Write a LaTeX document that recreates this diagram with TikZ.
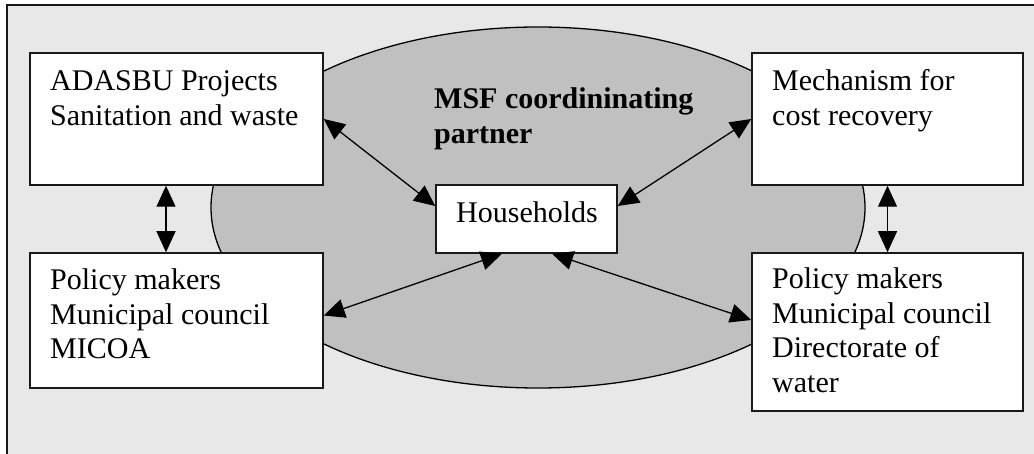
\documentclass[tikz,border=0pt]{standalone}
\usepackage{fontspec}
\setmainfont{Liberation Serif}
\usetikzlibrary{arrows.meta}
\definecolor{bgpanel}{RGB}{232,232,232}
\definecolor{msffill}{RGB}{192,192,192}
\definecolor{edge}{RGB}{25,25,25}
\begin{document}
\begin{tikzpicture}[x=1pt,y=-1pt,
  box/.style={draw=edge, line width=1.5pt, fill=white, inner sep=0pt},
  lbl/.style={anchor=base west, inner sep=0pt, font=\fontsize{30}{34.5}\selectfont},
  title/.style={anchor=base west, inner sep=0pt, font=\fontsize{30}{35}\selectfont\bfseries},
  link/.style={line width=1.3pt, draw=black,
    {Triangle[length=21pt,width=19pt]}-{Triangle[length=21pt,width=19pt]}}]
\useasboundingbox (0,0) rectangle (1034,454);
% panel
\filldraw[fill=bgpanel, draw=edge, line width=1.5pt] (7,5) rectangle (1045,470);
% MSF ellipse
\filldraw[fill=msffill, draw=black, line width=1.3pt] (538,207.5) ellipse [x radius=327, y radius=180.5];
% boxes
\node[box, minimum width=293pt, minimum height=132pt] (b1) at (176.5,119) {};
\node[box, minimum width=293pt, minimum height=135pt] (b2) at (176.5,320.5) {};
\node[box, minimum width=181pt, minimum height=68pt] (hh) at (526.5,219) {};
\node[box, minimum width=271pt, minimum height=132pt] (b3) at (887.5,119) {};
\node[box, minimum width=271pt, minimum height=158pt] (b4) at (887.5,332) {};
% texts
\node[lbl] (t1) at (50,91) {\begin{tabular}[t]{@{}l@{}}ADASBU Projects\\Sanitation and waste\end{tabular}};
\node[lbl] (t2) at (50,290) {\begin{tabular}[t]{@{}l@{}}Policy makers\\Municipal council\\MICOA\end{tabular}};
\node[lbl] (t3) at (772,91) {\begin{tabular}[t]{@{}l@{}}Mechanism for\\cost recovery\end{tabular}};
\node[lbl] (t4) at (772,289) {\begin{tabular}[t]{@{}l@{}}Policy makers\\Municipal council\\Directorate of\\water\end{tabular}};
\node[lbl] (th) at (456,223) {Households};
\node[title] (tm) at (434,109) {\begin{tabular}[t]{@{}l@{}}MSF coordininating\\partner\end{tabular}};
% connectors
\draw[link] (b1.east) -- ([yshift=13pt]hh.west);
\draw[link] ([xshift=-10.5pt]b1.south) -- ([xshift=-10.5pt]b2.north);
\draw[link] ([yshift=5pt]b2.east) -- ([xshift=-24.5pt]hh.south);
\draw[link] ([yshift=13pt]hh.east) -- (b3.west);
\draw[link] ([xshift=25.5pt]hh.south) -- ([yshift=12pt]b4.west);
\draw[link] (b3.south) -- (b4.north);
\end{tikzpicture}
\end{document}
